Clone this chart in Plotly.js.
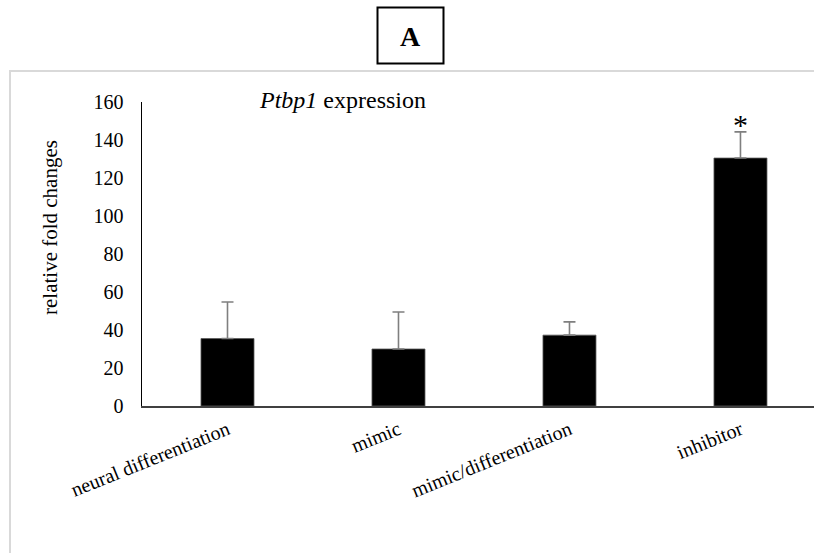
<!DOCTYPE html>
<html>
<head>
<meta charset="utf-8">
<script src="https://cdn.plot.ly/plotly-3.0.1.min.js"></script>
<style>html,body{margin:0;padding:0;background:#fff;}#chart{width:814px;height:553px;}</style>
</head>
<body>
<div id="chart"></div>
<script>
const categories = ["neural differentiation", "mimic", "mimic/differentiation", "inhibitor"];
const foldChange = [35.5, 30, 37.3, 130.5];
const errorPlus = [19.2, 19.5, 7, 13.8];
const errorMinus = [0, 0, 0, 0];
const yTicks = [0, 20, 40, 60, 80, 100, 120, 140, 160];
const significance = ["", "", "", "*"];
const sigY = [0, 0, 0, 148];

const FONT = "Liberation Serif";
const L = 142, R = 814, T = 102, B = 406;
const W = 814, H = 553;
const px = x => (x - L) / (R - L);
const py = y => (B - y) / (B - T);

const trace = {
  type: "bar",
  x: categories,
  y: foldChange,
  width: 0.31,
  marker: {color: "#000000", line: {color: "#595959", width: 0.8}},
  error_y: {type: "data", symmetric: false, array: errorPlus, arrayminus: errorMinus,
            color: "#7f7f7f", thickness: 1.6, width: 6},
  hoverinfo: "none"
};

const annotations = [];
categories.forEach((c, i) => {
  if (significance[i]) {
    annotations.push({x: c, y: sigY[i], xref: "x", yref: "y", text: significance[i],
      showarrow: false, font: {family: FONT, size: 30, color: "#000"}, yanchor: "middle"});
  }
});
annotations.push({x: px(410), y: py(36), xref: "paper", yref: "paper", text: "<b>A</b>",
  showarrow: false, font: {family: FONT, size: 28, color: "#000"}, xanchor: "center", yanchor: "middle"});
annotations.push({x: px(342), y: py(100), xref: "paper", yref: "paper", text: "<i>Ptbp1</i> expression",
  showarrow: false, font: {family: FONT, size: 24, color: "#000"}, xanchor: "center", yanchor: "middle"});
annotations.push({x: px(50), y: py(227), xref: "paper", yref: "paper", text: "relative fold changes",
  textangle: -90, showarrow: false, font: {family: FONT, size: 21, color: "#000"}, xanchor: "center", yanchor: "middle"});

const layout = {
  width: W, height: H,
  font: {family: FONT, color: "#000"},
  margin: {l: L, r: W - R, t: T, b: H - B, pad: 0},
  paper_bgcolor: "#fff", plot_bgcolor: "#fff",
  showlegend: false,
  xaxis: {type: "category", range: [-0.5, 3.43], showgrid: false, zeroline: false,
          showline: true, linecolor: "#404040", linewidth: 1.5, ticks: "",
          tickangle: -22, ticklabelstandoff: 3,
          tickfont: {family: FONT, size: 20, color: "#000"}},
  yaxis: {range: [0, 160], tickvals: yTicks, ticktext: yTicks.map(String),
          showgrid: false, zeroline: false, showline: true, linecolor: "#000", linewidth: 1.5,
          ticks: "", ticklabelstandoff: 13,
          tickfont: {family: FONT, size: 20, color: "#000"}},
  shapes: [
    {type: "rect", xref: "paper", yref: "paper", x0: px(10), x1: px(830), y0: py(570), y1: py(71),
     line: {color: "#d9d9d9", width: 2}, layer: "below"},
    {type: "rect", xref: "paper", yref: "paper", x0: px(377.5), x1: px(443.5), y0: py(63.5), y1: py(7.5),
     line: {color: "#000", width: 2}}
  ],
  annotations: annotations
};

Plotly.newPlot("chart", [trace], layout, {displayModeBar: false, staticPlot: true});
</script>
</body>
</html>
